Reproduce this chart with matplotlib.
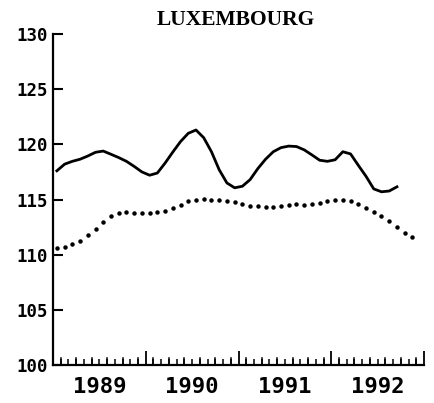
import matplotlib
matplotlib.use("Agg")
import matplotlib.pyplot as plt
import numpy as np

title = "LUXEMBOURG"
start_year = 1989
year_labels = ["1989", "1990", "1991", "1992"]
y_ticks = [100, 105, 110, 115, 120, 125, 130]

# monthly values starting Jan 1989
solid_values = [117.6, 118.2, 118.46, 118.65, 118.94, 119.28, 119.39, 119.1, 118.8, 118.46,
                118.0, 117.5, 117.2, 117.4, 118.3, 119.3, 120.25, 121.0, 121.3, 120.6,
                119.33, 117.7, 116.5, 116.06, 116.2, 116.8, 117.8, 118.65, 119.33, 119.7,
                119.84, 119.8, 119.5, 119.04, 118.56, 118.46, 118.6, 119.33, 119.13, 118.1,
                117.1, 115.96, 115.7, 115.77, 116.15]
dotted_values = [110.64, 110.73, 110.94, 111.25, 111.75, 112.34, 113.0, 113.5, 113.8, 113.86,
                 113.8, 113.77, 113.8, 113.89, 114.0, 114.2, 114.52, 114.82, 115.0, 115.03,
                 115.0, 114.94, 114.88, 114.75, 114.57, 114.45, 114.39, 114.36, 114.34, 114.39,
                 114.52, 114.55, 114.52, 114.55, 114.67, 114.82, 114.94, 114.94, 114.82, 114.57,
                 114.2, 113.86, 113.54, 113.04, 112.54, 111.99, 111.58]

W, H = 434, 403
fig = plt.figure(figsize=(W / 100, H / 100), dpi=100)
ax = fig.add_axes([53 / W, 1 - 365 / H, (424 - 53) / W, (365 - 34) / H])

xs_solid = start_year + (np.arange(len(solid_values)) + 0.5) / 12
xs_dot = start_year + (np.arange(len(dotted_values)) + 0.5) / 12

ax.plot(xs_solid, solid_values, color="black", lw=2.0, solid_joinstyle="round")
ax.plot(xs_dot, dotted_values, linestyle="none", marker="o", ms=2.2, color="black")

ax.set_xlim(start_year, start_year + len(year_labels))
ax.set_ylim(100, 130)

for s in ["top", "right"]:
    ax.spines[s].set_visible(False)
for s in ["left", "bottom"]:
    ax.spines[s].set_linewidth(1.6)

ax.set_yticks(y_ticks)
ax.set_yticklabels([str(v) for v in y_ticks], fontfamily="DejaVu Sans Mono",
                   fontweight="bold", fontsize=12.5)
ax.tick_params(axis="y", direction="in", length=7, width=1.5, pad=4)

# x: year boundaries (long), months (alternating short/medium)
n_years = len(year_labels)
ax.set_xticks(start_year + np.arange(n_years + 1))
ax.set_xticklabels([])
ax.tick_params(axis="x", which="major", direction="in", length=10, width=1.3)
months = [m for m in range(1, 12 * n_years) if m % 12 != 0]
ax.set_xticks([start_year + m / 12 for m in months], minor=True)
ax.tick_params(axis="x", which="minor", direction="in", length=4, width=1.1)
tx = ax.get_xaxis_transform()
for m in months:
    if m % 2 == 1:
        ax.plot([start_year + m / 12] * 2, [0, 0.022], transform=tx, color="black",
                lw=1.1, clip_on=False)

for i, lab in enumerate(year_labels):
    ax.text(start_year + i + 0.5, -0.035, lab, transform=tx,
            ha="center", va="top", fontfamily="DejaVu Sans Mono", fontweight="bold",
            fontsize=16)

fig.text(236 / W, 1 - 20 / H, title, ha="center", va="center",
         fontfamily="Liberation Serif", fontweight="bold", fontsize=15.5)

fig.savefig("out.png", dpi=100)
